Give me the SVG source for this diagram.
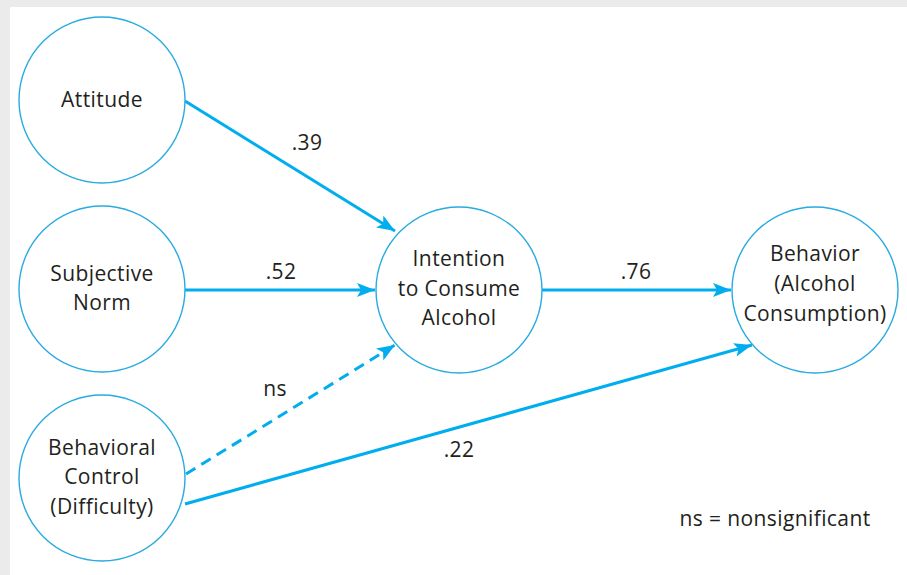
<svg xmlns="http://www.w3.org/2000/svg" width="907" height="575" viewBox="0 0 907 575">
<defs>
<style>
.node circle{fill:#fff;stroke:#29abe2;stroke-width:1.4}
text{font-family:"Open Sans","Noto Sans",sans-serif;font-size:21px;letter-spacing:0.4px;fill:#231f20;text-anchor:middle}
.edge{stroke:#00aeef;stroke-width:3;fill:none}
.dash{stroke-dasharray:11,7}
</style>
<marker id="ah" markerUnits="userSpaceOnUse" markerWidth="20" markerHeight="16" viewBox="0 0 20 16" refX="18" refY="8" orient="auto">
<path d="M0,1 L18,8 L0,15 L4,8 z" fill="#00aeef"/>
</marker>
</defs>
<rect x="0" y="0" width="907" height="575" fill="#ebebeb"/>
<rect x="10" y="7" width="897" height="568" fill="#fff"/>
<g id="connectors">
<line class="edge" x1="185" y1="101" x2="395" y2="231" marker-end="url(#ah)"/>
<line class="edge" x1="185" y1="290" x2="375" y2="290" marker-end="url(#ah)"/>
<line class="edge" x1="542" y1="290" x2="731" y2="290" marker-end="url(#ah)"/>
<line class="edge dash" x1="186" y1="474" x2="395" y2="345" marker-end="url(#ah)"/>
<line class="edge" x1="185" y1="504" x2="752" y2="345" marker-end="url(#ah)"/>
<text x="307" y="150">.39</text>
<text x="281" y="279">.52</text>
<text x="636" y="279">.76</text>
<text x="275" y="396">ns</text>
<text x="459" y="457">.22</text>
</g>
<g id="attitude" class="node">
<circle cx="102" cy="100" r="83"/>
<text x="102" y="107">Attitude</text>
</g>
<g id="subjective-norm" class="node">
<circle cx="102" cy="289" r="83"/>
<text x="102" y="281">Subjective</text>
<text x="102" y="310">Norm</text>
</g>
<g id="behavioral-control" class="node">
<circle cx="102" cy="478" r="83"/>
<text x="102" y="455">Behavioral</text>
<text x="102" y="484">Control</text>
<text x="102" y="514">(Difficulty)</text>
</g>
<g id="intention" class="node">
<circle cx="459" cy="290" r="83"/>
<text x="459" y="266">Intention</text>
<text x="459" y="296">to Consume</text>
<text x="459" y="325">Alcohol</text>
</g>
<g id="behavior" class="node">
<circle cx="815" cy="290" r="83"/>
<text x="815" y="261">Behavior</text>
<text x="815" y="291">(Alcohol</text>
<text x="815" y="321">Consumption)</text>
</g>
<text x="775" y="526">ns = nonsignificant</text>
</svg>
